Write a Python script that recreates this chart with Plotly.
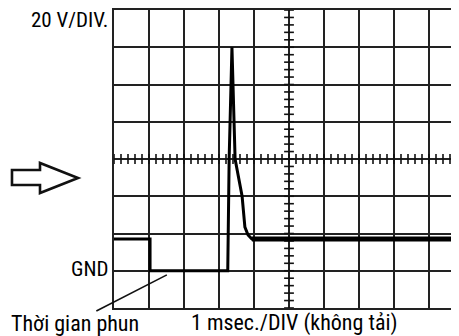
import numpy as np
import plotly.graph_objects as go

# Oscilloscope trace (x in divisions of 1 msec, y in divisions of 20 V; GND = 1 div)
time_div = [0, 1.03, 1.03, 3.25, 3.29, 3.37, 3.43, 3.46, 3.66, 3.74, 3.83, 3.94, 9.86]
volt_div = [1.85, 1.85, 1.0, 1.0, 4.0, 7.0, 5.0, 4.0, 3.0, 2.17, 1.96, 1.85, 1.85]

x_divisions = 10
y_divisions = 8
gnd_level = 1

label_volt = "20 V/DIV."
label_gnd = "GND"
label_inject = "Thời gian phun"
label_time = "1 msec./DIV (không tải)"

# page offset caused by default body margin
OFF = 8
PAGE_W, PAGE_H = 459, 336
W, H = PAGE_W - OFF, PAGE_H - OFF
L, R, T, B = 114 - OFF, 0, 10 - OFF, 28
pw, ph = W - L - R, H - T - B
div_px = 35.0
xmax = pw / div_px

FONT = "Liberation Sans Narrow, Arial Narrow, Roboto Condensed, Liberation Sans, sans-serif"

fig = go.Figure()

# centre graticule minor ticks
cx = x_divisions / 2
cy = y_divisions / 2
tx = np.arange(0, xmax, 0.2)
fig.add_trace(go.Scatter(x=tx, y=[cy] * len(tx), mode="markers",
                         marker=dict(symbol="line-ns", size=7, line=dict(width=1.6, color="#111")),
                         hoverinfo="skip", showlegend=False))
ty = np.arange(0, y_divisions + 0.01, 0.2)
fig.add_trace(go.Scatter(x=[cx] * len(ty), y=ty, mode="markers",
                         marker=dict(symbol="line-ew", size=7, line=dict(width=1.6, color="#111")),
                         hoverinfo="skip", showlegend=False))

# trace
fig.add_trace(go.Scatter(x=time_div, y=volt_div, mode="lines",
                         line=dict(color="#000", width=3), showlegend=False))
fig.add_trace(go.Scatter(x=time_div[-2:], y=volt_div[-2:], mode="lines",
                         line=dict(color="#000", width=5), showlegend=False))


def px_to_paper(px, py):
    # px, py are page pixel positions
    return (px - OFF - L) / pw, (H - B - (py - OFF)) / ph


annots = []
x0, y0 = px_to_paper(110, 20)
annots.append(dict(text=label_volt, x=x0, y=y0, xref="paper", yref="paper",
                   xanchor="right", yanchor="middle", showarrow=False,
                   font=dict(family=FONT, size=21, color="#000")))
x0, y0 = px_to_paper(110, 269)
annots.append(dict(text=label_gnd, x=x0, y=y0, xref="paper", yref="paper",
                   xanchor="right", yanchor="middle", showarrow=False,
                   font=dict(family=FONT, size=21, color="#000")))
x0, y0 = px_to_paper(9, 323)
annots.append(dict(text=label_inject, x=x0, y=y0, xref="paper", yref="paper",
                   xanchor="left", yanchor="middle", showarrow=False,
                   font=dict(family=FONT, size=22, color="#000")))
x0, y0 = px_to_paper(189, 323)
annots.append(dict(text=label_time, x=x0, y=y0, xref="paper", yref="paper",
                   xanchor="left", yanchor="middle", showarrow=False,
                   font=dict(family=FONT, size=22, color="#000")))
# pointer line from injection-time label to the trace
annots.append(dict(text="", x=1.51, y=0.89, xref="x", yref="y",
                   showarrow=True, arrowhead=0, arrowwidth=1.6, arrowcolor="#111",
                   ax=-72, ay=37, standoff=0, startstandoff=0))

# outlined block arrow on the left
pts = [(12, 170), (40, 170), (40, 163), (78, 178), (40, 193), (40, 185), (12, 185)]
pp = [px_to_paper(a, b) for a, b in pts]
path = "M " + " L ".join(f"{a:.4f},{b:.4f}" for a, b in pp) + " Z"

fig.update_layout(
    width=W, height=H,
    margin=dict(l=L, r=R, t=T, b=B, pad=0),
    paper_bgcolor="white", plot_bgcolor="white",
    annotations=annots,
    shapes=[dict(type="path", path=path, xref="paper", yref="paper",
                 line=dict(color="#111", width=2.6), fillcolor="white", layer="above")],
    xaxis=dict(range=[0, xmax], dtick=1, tick0=0, showgrid=True, gridcolor="#222",
               gridwidth=1.8, zeroline=False, showline=True, linecolor="#222",
               linewidth=2, mirror=True, showticklabels=False, ticks=""),
    yaxis=dict(range=[0, y_divisions], dtick=1, tick0=0, showgrid=True, gridcolor="#222",
               gridwidth=1.8, zeroline=False, showline=True, linecolor="#222",
               linewidth=2, showticklabels=False, ticks=""),
    showlegend=False,
)

fig.write_html("out.html")
